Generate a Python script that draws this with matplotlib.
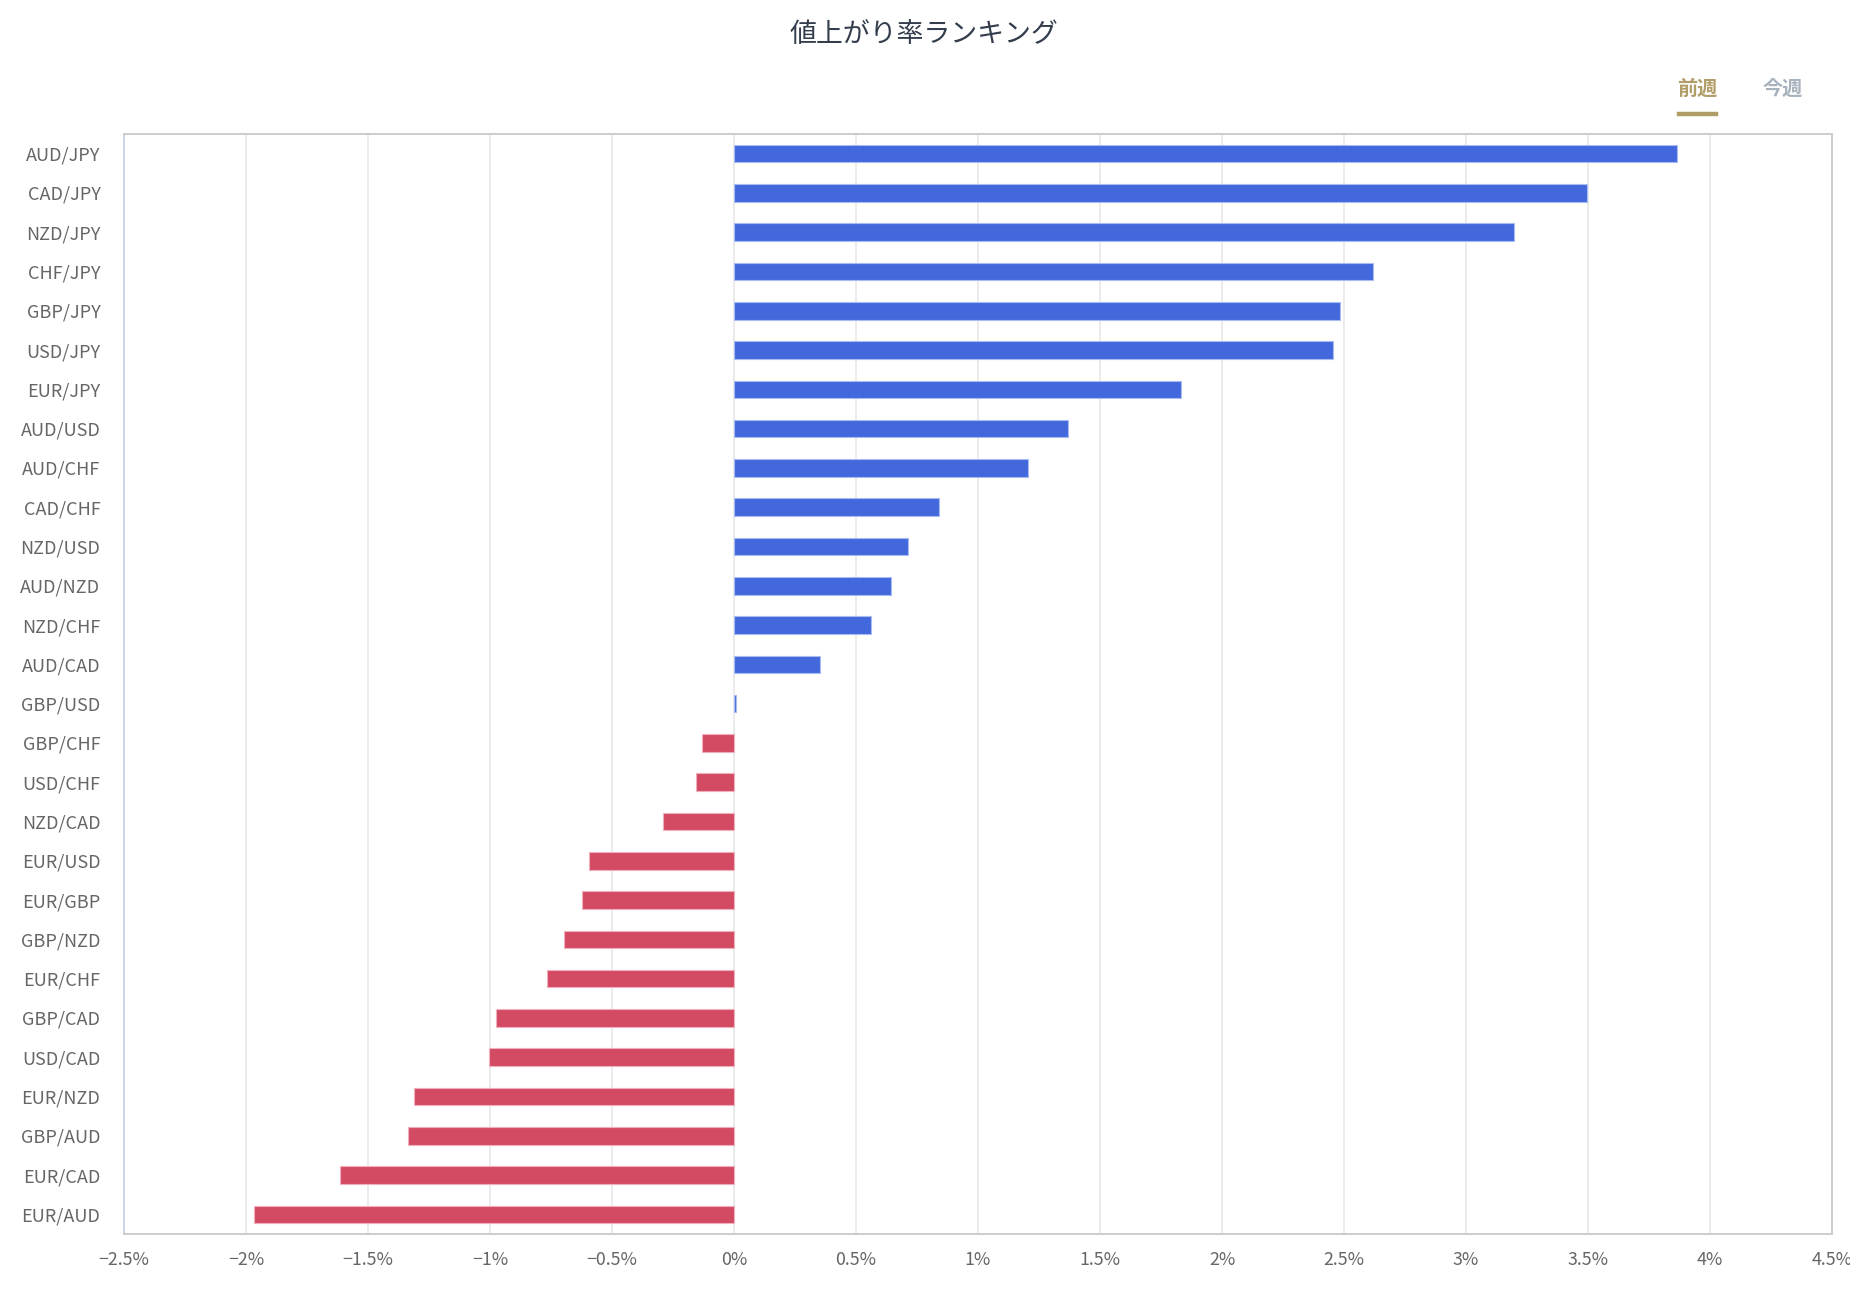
import matplotlib
matplotlib.use("Agg")
import matplotlib.pyplot as plt
from matplotlib.ticker import FuncFormatter, MultipleLocator

plt.rcParams['font.family'] = ['Noto Sans CJK JP', 'DejaVu Sans']

# data (weekly change in %)
pairs = ["AUD/JPY", "CAD/JPY", "NZD/JPY", "CHF/JPY", "GBP/JPY", "USD/JPY", "EUR/JPY",
         "AUD/USD", "AUD/CHF", "CAD/CHF", "NZD/USD", "AUD/NZD", "NZD/CHF", "AUD/CAD",
         "GBP/USD", "GBP/CHF", "USD/CHF", "NZD/CAD", "EUR/USD", "EUR/GBP", "GBP/NZD",
         "EUR/CHF", "GBP/CAD", "USD/CAD", "EUR/NZD", "GBP/AUD", "EUR/CAD", "EUR/AUD"]
change = [3.865, 3.497, 3.197, 2.620, 2.482, 2.456, 1.832,
          1.368, 1.203, 0.841, 0.715, 0.643, 0.561, 0.353,
          0.01, -0.13, -0.155, -0.29, -0.594, -0.623, -0.696,
          -0.768, -0.976, -1.005, -1.31, -1.338, -1.614, -1.967]
tabs = ["前週", "今週"]

W, H = 1850, 1300
fig = plt.figure(figsize=(W / 100, H / 100), dpi=100)
fig.patch.set_facecolor("white")

# plot area in pixel coords
left, right, top, bottom = 124, 1832, 134, 1234
ax = fig.add_axes([left / W, (H - bottom) / H, (right - left) / W, (bottom - top) / H])

up_col, up_edge = "#4368dc", "#a9bcf2"
dn_col, dn_edge = "#d34b63", "#efb0bc"
ypos = list(range(len(pairs)))
cols = [up_col if v >= 0 else dn_col for v in change]
edges = [up_edge if v >= 0 else dn_edge for v in change]
ax.barh(ypos, change, height=0.45, color=cols, edgecolor=edges, linewidth=0.8, zorder=3)

ax.set_ylim(len(pairs) - 0.5, -0.5)
ax.set_xlim(-2.5, 4.5)
ax.set_yticks(ypos)
ax.set_yticklabels(pairs)
ax.xaxis.set_major_locator(MultipleLocator(0.5))


def pct(v, _):
    s = ("%.1f" % abs(v)).rstrip("0").rstrip(".")
    return ("\u2212" if v < 0 else "") + s + "%"


ax.xaxis.set_major_formatter(FuncFormatter(pct))
ax.tick_params(axis="both", length=0, labelcolor="#666666")
ax.tick_params(axis="y", pad=17, labelsize=13)
ax.tick_params(axis="x", pad=12, labelsize=12.8)
ax.grid(axis="x", color="#e6e6e6", linewidth=1.1, zorder=0)
ax.set_axisbelow(True)

for side in ["top", "right", "bottom"]:
    ax.spines[side].set_color("#cccccc")
    ax.spines[side].set_linewidth(1.4)
ax.spines["left"].set_color("#ccd6eb")
ax.spines["left"].set_linewidth(1.4)

# title
fig.text(924 / W, 1 - 35 / H, "値上がり率ランキング", ha="center", va="center",
         fontsize=19.4, color="#333d4c")

# period tabs
fig.text(1697 / W, 1 - 88 / H, tabs[0], ha="center", va="center",
         fontsize=14.5, fontweight="bold", color="#b09d68")
fig.text(1783 / W, 1 - 88 / H, tabs[1], ha="center", va="center",
         fontsize=14.5, fontweight="bold", color="#a7b2bd")
fig.add_artist(plt.Line2D([1679 / W, 1716 / W], [1 - 114 / H, 1 - 114 / H],
                          color="#b09d68", linewidth=3.2, transform=fig.transFigure))

fig.savefig("out.png", dpi=100, facecolor="white")
